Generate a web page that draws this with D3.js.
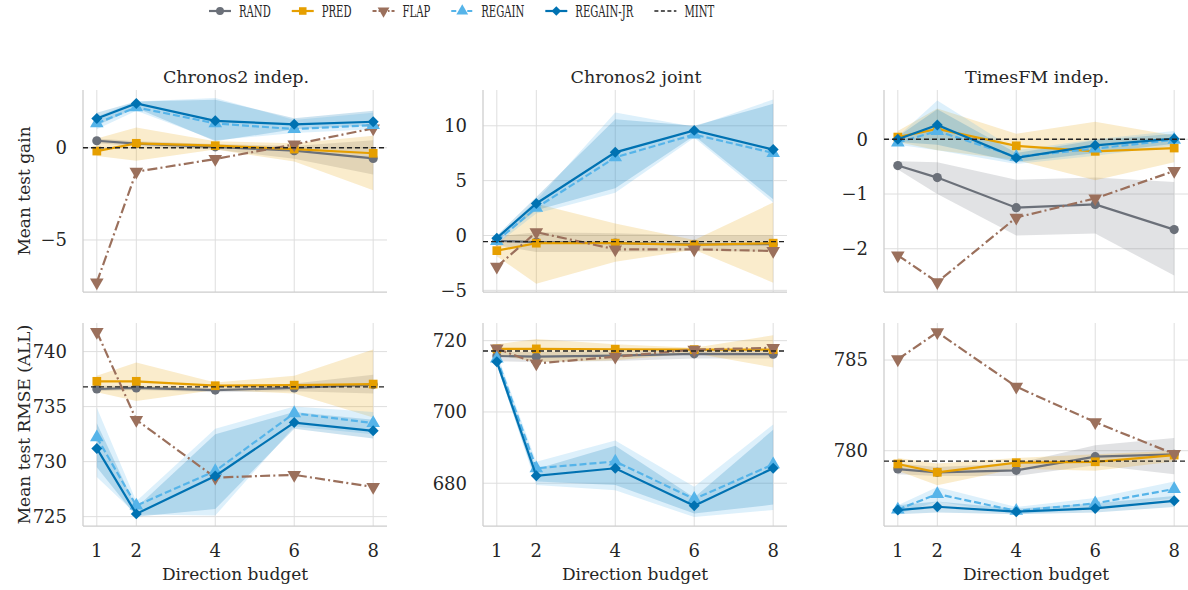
<!DOCTYPE html>
<html>
<head>
<meta charset="utf-8">
<script src="https://cdn.jsdelivr.net/npm/d3@7"></script>
<style>
  body { margin: 0; background: #fff; }
  svg { display: block; font-family: "DejaVu Serif", serif; }
</style>
</head>
<body>
<svg id="chart"></svg>
<script>
  // Data
  const budgets = [1, 2, 4, 6, 8];
  const methods = ["RAND", "PRED", "FLAP", "REGAIN", "REGAIN-JR"];
  const titles = ["Chronos2 indep.", "Chronos2 joint", "TimesFM indep."];
  const rowLabels = ["Mean test gain", "Mean test RMSE (ALL)"];

  // rows follow methods order; FLAP has no band (null)
  const c2iGainMean = [[0.38, 0.22, 0.05, -0.16, -0.58], [-0.18, 0.24, 0.11, -0.07, -0.30], [-7.3, -1.30, -0.61, 0.18, 1.05], [1.32, 2.19, 1.32, 1.01, 1.23], [1.59, 2.40, 1.46, 1.27, 1.41]];
  const c2iGainLo = [[0.25, 0.1, -0.1, -0.6, -1.45], [-0.45, -0.7, -0.1, -0.75, -2.3], null, [1.0, 2.0, 0.4, 0.8, 1.0], [1.2, 2.15, 0.35, 1.0, 1.2]];
  const c2iGainHi = [[0.5, 0.35, 0.2, 0.1, 0.4], [0.5, 1.1, 0.35, 0.25, 0.65], null, [1.7, 2.5, 2.7, 1.5, 1.9], [1.9, 2.5, 2.6, 1.6, 2.0]];

  const c2jGainMean = [[-0.49, -0.6, -0.7, -0.8, -0.8], [-1.38, -0.7, -0.7, -0.86, -0.7], [-2.85, 0.3, -1.26, -1.26, -1.41], [-0.5, 2.52, 7.12, 9.2, 7.52], [-0.24, 2.92, 7.58, 9.58, 7.83]];
  const c2jGainLo = [[-0.9, -1.5, -1.5, -1.4, -1.5], [-1.9, -4.4, -2.4, -1.3, -4.3], null, [-0.8, 2.0, 3.9, 8.9, 3.0], [-0.5, 2.3, 4.3, 9.1, 3.3]];
  const c2jGainHi = [[-0.1, 0.3, 0.2, 0.0, 0.0], [-0.9, 2.9, 1.1, -0.4, 3.0], null, [-0.2, 3.2, 11.2, 9.9, 12.4], [0.0, 3.5, 10.6, 10.0, 12.0]];

  const tfmGainMean = [[-0.48, -0.70, -1.25, -1.19, -1.65], [0.04, 0.19, -0.12, -0.22, -0.16], [-2.12, -2.61, -1.43, -1.08, -0.58], [-0.06, 0.15, -0.32, -0.17, -0.01], [0.0, 0.26, -0.34, -0.11, 0.01]];
  const tfmGainLo = [[-0.55, -1.0, -1.76, -1.72, -2.49], [-0.05, -0.2, -0.38, -0.75, -0.42], null, [-0.1, -0.2, -0.45, -0.3, -0.12], [-0.05, -0.1, -0.42, -0.25, -0.08]];
  const tfmGainHi = [[-0.4, -0.42, -0.74, -0.7, -0.78], [0.15, 0.56, 0.1, 0.32, 0.07], null, [0.05, 0.71, -0.2, 0.0, 0.15], [0.05, 0.55, -0.25, -0.02, 0.1]];

  const c2iRmseMean = [[736.6, 736.7, 736.5, 736.7, 737.0], [737.3, 737.3, 736.9, 736.95, 737.05], [741.8, 733.8, 728.55, 728.8, 727.7], [732.2, 726.0, 729.15, 734.4, 733.5], [731.2, 725.25, 728.7, 733.55, 732.8]];
  const c2iRmseLo = [[736.4, 736.5, 736.3, 736.4, 736.2], [736.3, 735.5, 736.5, 736.2, 734.0], null, [728.6, 725.2, 725.1, 733.2, 732.5], [729.5, 725.0, 725.7, 733.0, 732.1]];
  const c2iRmseHi = [[736.9, 736.9, 736.7, 737.1, 737.9], [737.8, 739.0, 737.2, 737.8, 740.2], null, [734.9, 726.4, 733.0, 735.0, 734.5], [733.5, 725.8, 732.5, 734.5, 733.8]];

  const c2jRmseMean = [[715.7, 715.5, 715.8, 716.3, 716.2], [717.7, 717.7, 717.6, 717.5, 717.5], [717.8, 713.6, 715.5, 717.5, 718.0], [715.0, 684.2, 686.1, 675.6, 685.3], [714.1, 682.1, 684.2, 673.7, 684.2]];
  const c2jRmseLo = [[714.2, 714.0, 714.3, 715.0, 715.0], [716.0, 714.0, 714.5, 716.5, 712.5], null, [713.5, 679.5, 678.0, 670.5, 672.5], [713.0, 680.5, 679.5, 671.5, 674.0]];
  const c2jRmseHi = [[716.8, 716.8, 717.0, 717.3, 717.2], [719.0, 720.5, 719.0, 718.0, 721.5], null, [716.5, 686.0, 692.0, 679.0, 696.5], [715.5, 684.0, 690.5, 676.0, 695.0]];

  const tfmRmseMean = [[778.99, 778.81, 778.92, 779.67, 779.8], [779.27, 778.81, 779.34, 779.39, 779.76], [785.04, 786.53, 783.53, 781.57, 779.82], [776.76, 777.61, 776.68, 777.1, 777.89], [776.73, 776.91, 776.64, 776.82, 777.24]];
  const tfmRmseLo = [[778.7, 778.6, 778.6, 779.2, 778.7], [778.9, 778.1, 779.0, 778.9, 779.4], null, [776.5, 777.2, 776.5, 776.8, 777.4], [776.5, 776.6, 776.5, 776.6, 776.9]];
  const tfmRmseHi = [[779.3, 779.1, 779.3, 780.3, 780.7], [779.6, 779.3, 779.6, 779.8, 780.0], null, [777.0, 778.0, 776.9, 777.4, 778.3], [777.0, 777.2, 776.8, 777.1, 777.5]];

  const mintValues = [0, -0.55, 0, 736.8, 717.1, 779.43];
  const yTicks = [[-5, 0], [-5, 0, 5, 10], [-2, -1, 0], [725, 730, 735, 740], [680, 700, 720], [780, 785]];
  const yLimits = [[-7.82, 3.13], [-5.15, 13.26], [-2.79, 0.9], [724.15, 742.6], [668.0, 724.96], [775.85, 787.04]];

  const panels = [
    [c2iGainMean, c2iGainLo, c2iGainHi], [c2jGainMean, c2jGainLo, c2jGainHi], [tfmGainMean, tfmGainLo, tfmGainHi],
    [c2iRmseMean, c2iRmseLo, c2iRmseHi], [c2jRmseMean, c2jRmseLo, c2jRmseHi], [tfmRmseMean, tfmRmseLo, tfmRmseHi]
  ];

  // Styles
  const style = {
    "RAND":      { color: "#6b7079", dash: null,             symbol: d3.symbolCircle,   size: 66, rot: 0 },
    "PRED":      { color: "#e69f00", dash: null,             symbol: d3.symbolSquare,   size: 76, rot: 0 },
    "FLAP":      { color: "#9b705c", dash: "10,3.2,2,3.2",   symbol: d3.symbolTriangle, size: 80, rot: 180 },
    "REGAIN":    { color: "#56b4e9", dash: "7,3",            symbol: d3.symbolTriangle, size: 80, rot: 0 },
    "REGAIN-JR": { color: "#0072b2", dash: null,             symbol: d3.symbolSquare,   size: 60, rot: 45 }
  };
  const textColor = "#262626";
  const gridColor = "#dedede";

  const width = 1188, height = 590;
  const svg = d3.select("#chart").attr("width", width).attr("height", height);

  const colLeft = [83, 483, 884];
  const panelW = 304;
  const rowTop = [90, 323];
  const rowBottom = [292, 526];

  panels.forEach(([means, los, his], p) => {
    const col = p % 3, row = Math.floor(p / 3);
    const x = d3.scaleLinear().domain([0.65, 8.35]).range([colLeft[col], colLeft[col] + panelW]);
    const y = d3.scaleLinear().domain(yLimits[p]).range([rowBottom[row], rowTop[row]]);
    const g = svg.append("g");

    // grid
    g.append("g").selectAll("line").data(budgets).join("line")
        .attr("x1", d => x(d)).attr("x2", d => x(d))
        .attr("y1", rowTop[row]).attr("y2", rowBottom[row])
        .attr("stroke", gridColor).attr("stroke-width", 1);
    g.append("g").selectAll("line").data(yTicks[p]).join("line")
        .attr("x1", x.range()[0]).attr("x2", x.range()[1])
        .attr("y1", d => y(d)).attr("y2", d => y(d))
        .attr("stroke", gridColor).attr("stroke-width", 1);

    // spines
    g.append("line").attr("x1", x.range()[0]).attr("x2", x.range()[0])
        .attr("y1", rowTop[row]).attr("y2", rowBottom[row]).attr("stroke", "#cccccc").attr("stroke-width", 1.25);
    g.append("line").attr("x1", x.range()[0]).attr("x2", x.range()[1])
        .attr("y1", rowBottom[row]).attr("y2", rowBottom[row]).attr("stroke", "#cccccc").attr("stroke-width", 1.25);

    // y tick labels
    g.append("g").selectAll("text").data(yTicks[p]).join("text")
        .attr("x", x.range()[0] - 16).attr("y", d => y(d)).attr("dy", "0.36em")
        .attr("text-anchor", "end").attr("font-size", 18).attr("fill", textColor)
        .text(d => d3.format("d")(d).replace("-", "\u2212"));

    // x tick labels + label on bottom row, titles on top row
    if (row === 1) {
      g.append("g").selectAll("text").data(budgets).join("text")
          .attr("x", d => x(d)).attr("y", rowBottom[row] + 30.5)
          .attr("text-anchor", "middle").attr("font-size", 18).attr("fill", textColor)
          .text(d => d);
      g.append("text").attr("x", (x.range()[0] + x.range()[1]) / 2).attr("y", 580)
          .attr("text-anchor", "middle").attr("font-size", 17).attr("fill", textColor)
          .text("Direction budget");
    } else {
      g.append("text").attr("x", (x.range()[0] + x.range()[1]) / 2 + 1).attr("y", 83)
          .attr("text-anchor", "middle").attr("font-size", 17.5).attr("fill", textColor)
          .text(titles[col]);
    }
    if (col === 0) {
      g.append("text")
          .attr("transform", `translate(30,${(rowTop[row] + rowBottom[row]) / 2}) rotate(-90)`)
          .attr("text-anchor", "middle").attr("font-size", 17).attr("fill", textColor)
          .text(rowLabels[row]);
    }

    // bands
    const area = d3.area().x((d, i) => x(budgets[i])).y0(d => y(d[0])).y1(d => y(d[1]));
    methods.forEach((m, k) => {
      if (!los[k]) return;
      g.append("path").datum(los[k].map((v, i) => [v, his[k][i]]))
          .attr("d", area).attr("fill", style[m].color).attr("fill-opacity", 0.2);
    });

    // lines + markers
    const line = d3.line().x((d, i) => x(budgets[i])).y(d => y(d));
    methods.forEach((m, k) => {
      const s = style[m];
      g.append("path").datum(means[k]).attr("d", line)
          .attr("fill", "none").attr("stroke", s.color).attr("stroke-width", 2.2)
          .attr("stroke-dasharray", s.dash);
      g.append("g").selectAll("path").data(means[k]).join("path")
          .attr("transform", (d, i) => `translate(${x(budgets[i])},${y(d)}) rotate(${s.rot})`)
          .attr("d", d3.symbol(s.symbol, s.size)).attr("fill", s.color);
    });

    // MINT reference
    g.append("line").attr("x1", x.range()[0]).attr("x2", x.range()[1])
        .attr("y1", y(mintValues[p])).attr("y2", y(mintValues[p]))
        .attr("stroke", "#222").attr("stroke-width", 1.3).attr("stroke-dasharray", "5,3");
  });

  // Legend (text looks horizontally squeezed in the original)
  const legend = svg.append("g");
  const entries = methods.concat(["MINT"]);
  let lx = 209;
  entries.forEach(m => {
    const s = style[m];
    const item = legend.append("g");
    item.append("line").attr("x1", lx).attr("x2", lx + 22).attr("y1", 11).attr("y2", 11)
        .attr("stroke", s ? s.color : "#222").attr("stroke-width", s ? 2.2 : 1.3)
        .attr("stroke-dasharray", s ? (s.dash ? "4,2,1.5,2" : null) : "4,2.5");
    if (m === "REGAIN") item.select("line").attr("stroke-dasharray", "5,3");
    if (s) item.append("path").attr("transform", `translate(${lx + 11},11) rotate(${s.rot})`)
        .attr("d", d3.symbol(s.symbol, s.size * 0.75)).attr("fill", s.color);
    const t = item.append("text").attr("font-size", 16).attr("fill", textColor)
        .attr("transform", `translate(${lx + 30},16.5) scale(0.63,1)`).text(m);
    const w = t.node().getComputedTextLength() * 0.63;
    lx += 30 + w + 21;
  });
</script>
</body>
</html>
